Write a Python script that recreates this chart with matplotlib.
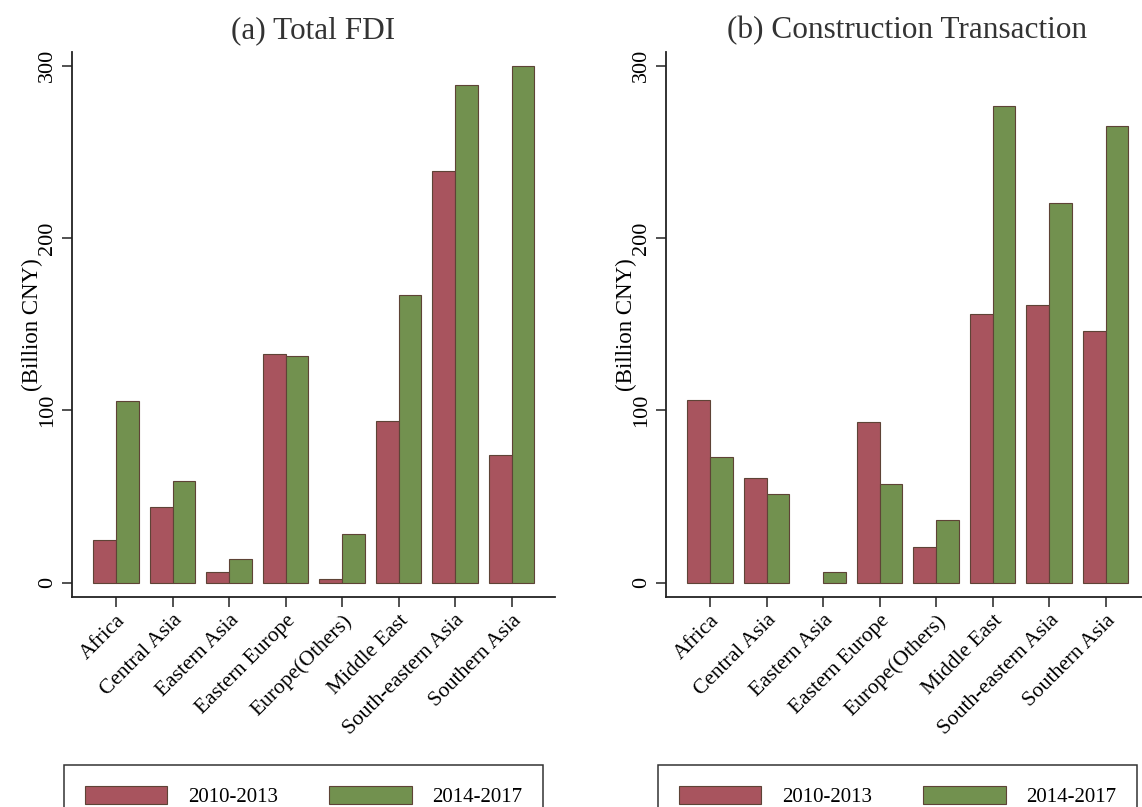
import numpy as np
import matplotlib
matplotlib.use('Agg')
import matplotlib.pyplot as plt

regions = ['Africa', 'Central Asia', 'Eastern Asia', 'Eastern Europe', 'Europe(Others)',
           'Middle East', 'South-eastern Asia', 'Southern Asia']
periods = ['2010-2013', '2014-2017']

# Total FDI, billion CNY
fdi_2010_2013 = [24.5, 44, 6, 132.5, 2, 94, 239, 74]
fdi_2014_2017 = [105.5, 59, 13.5, 131.5, 28.5, 167, 289, 300]

# Construction transactions, billion CNY
con_2010_2013 = [106, 61, 0, 93, 20.5, 156, 161, 146]
con_2014_2017 = [73, 51.5, 6, 57.5, 36.5, 276.5, 220.5, 265]

red = '#a8545e'
green = '#72914f'
edge = '#5e4336'

plt.rcParams['font.family'] = ['Liberation Serif', 'DejaVu Serif']


def edgeWidths(values):  # no outline for empty bars
    return [0.8 if v > 0 else 0 for v in values]


def drawPanel(ax, first, second, title):  # grouped bars for one panel
    x = np.arange(len(regions))
    w = 0.4
    b1 = ax.bar(x - w / 2, first, w, color=red, edgecolor=edge, linewidth=edgeWidths(first))
    b2 = ax.bar(x + w / 2, second, w, color=green, edgecolor=edge, linewidth=edgeWidths(second))

    ax.set_xlim(-0.78, 7.77)
    ax.set_ylim(-8.3, 308)
    ax.set_yticks([0, 100, 200, 300])
    ax.set_yticklabels(['0', '100', '200', '300'], rotation=90, va='center')
    ax.set_xticks(x)
    ax.set_xticklabels(regions, rotation=45, ha='right', rotation_mode='anchor')
    ax.tick_params(axis='both', length=7, width=1.1, color='#222222')
    ax.tick_params(axis='x', pad=3, labelsize=15.5)
    ax.tick_params(axis='y', pad=4, labelsize=16)

    for s in ['top', 'right']:
        ax.spines[s].set_visible(False)
    for s in ['left', 'bottom']:
        ax.spines[s].set_linewidth(1.3)
        ax.spines[s].set_color('#222222')

    ax.set_ylabel('(Billion CNY)', fontsize=16.5, labelpad=-4)
    ax.set_title(title, fontsize=22.5, pad=10, color='#333333')

    leg = ax.legend([b1, b2], periods, loc='upper center', ncol=2,
                    bbox_to_anchor=(0.48, -0.308), bbox_transform=ax.transAxes,
                    fontsize=15, frameon=True, fancybox=False, edgecolor='black',
                    handlelength=3.95, handleheight=1.0, columnspacing=2.45,
                    handletextpad=1.0, borderpad=1.0, borderaxespad=0)
    leg.get_frame().set_linewidth(1.1)
    return leg


fig = plt.figure(figsize=(11.42, 8.07), dpi=100)
ax1 = fig.add_axes([0.063, 0.2602, 0.423, 0.6754])
ax2 = fig.add_axes([0.5832, 0.2602, 0.423, 0.6754])

drawPanel(ax1, fdi_2010_2013, fdi_2014_2017, '(a) Total FDI')
drawPanel(ax2, con_2010_2013, con_2014_2017, '(b) Construction Transaction')

plt.savefig('out.png', dpi=100)
plt.close(fig)
